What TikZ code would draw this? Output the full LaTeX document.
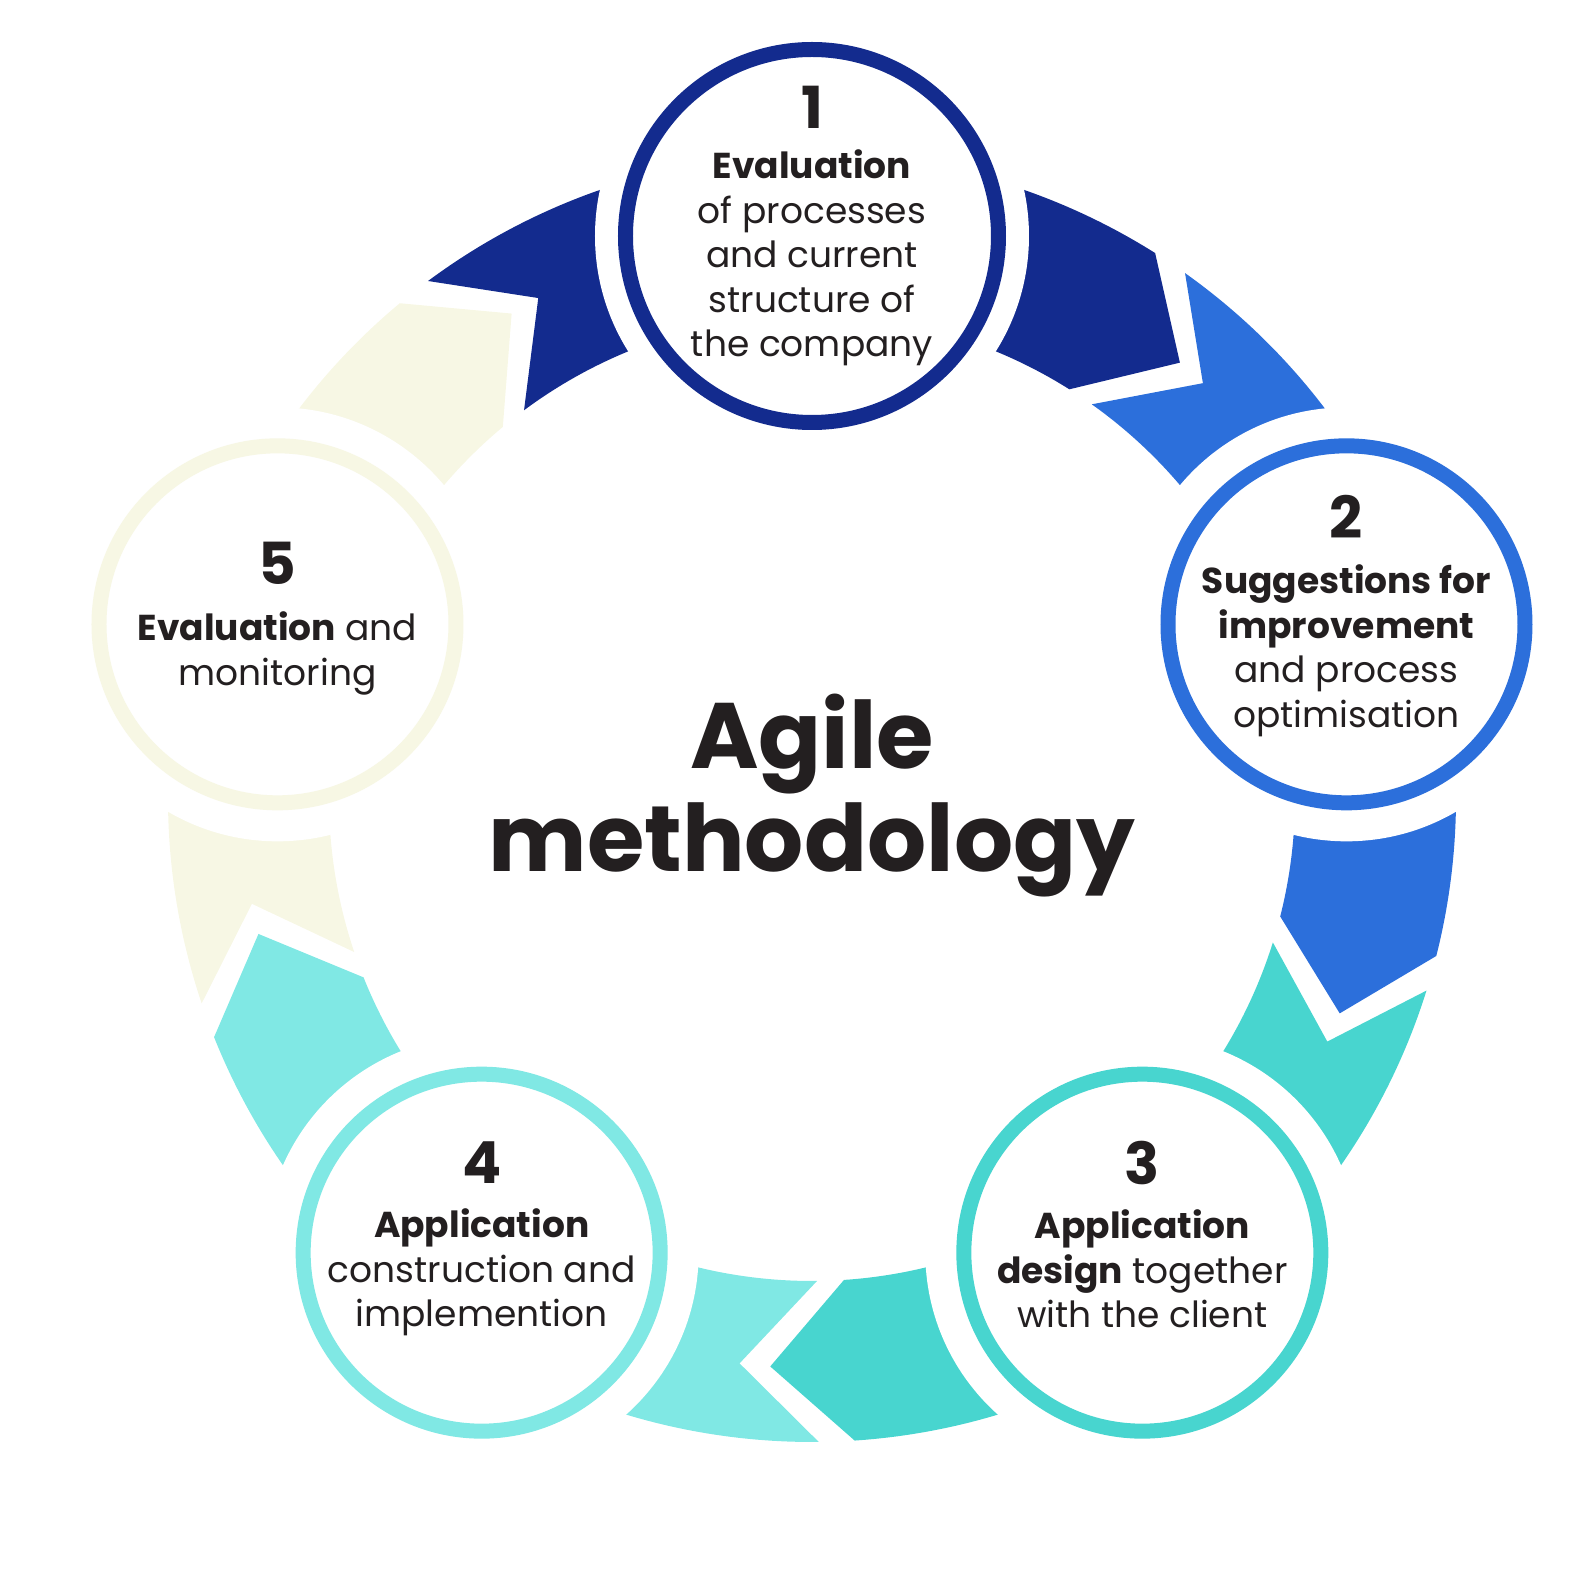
\documentclass[tikz,border=0pt]{standalone}
\usepackage{fontspec}
\setmainfont{Poppins}

\definecolor{stepone}{RGB}{19,43,142}
\definecolor{steptwo}{RGB}{44,111,219}
\definecolor{stepthree}{RGB}{72,213,207}
\definecolor{stepfour}{RGB}{128,232,228}
\definecolor{stepfive}{RGB}{247,247,228}
\definecolor{txt}{RGB}{35,31,32}

\tikzset{
  stepring/.style={circle, inner sep=0pt, line width=15pt, fill=white},
  steptext/.style={align=center, anchor=base, inner sep=0pt, text=txt,
    font=\fontsize{36}{44.5}\selectfont},
}
\newcommand{\stepnum}[1]{{\fontsize{58}{58}\selectfont\bfseries #1}}

\begin{document}
\begin{tikzpicture}[x=1pt,y=1pt]
\useasboundingbox (-812,-771) rectangle (771,798);

%arrow pieces of the cycle, one behind each circle
\foreach \a/\c in {90/stepone,18/steptwo,-54/stepthree,-126/stepfour,162/stepfive}
  \fill[\c] ({\a+36.6}:644) arc[start angle=\a+36.6, end angle=\a-32.2, radius=644]
    -- ({\a-40.2}:570) -- ({\a-32.2}:483)
    arc[start angle=\a-32.2, end angle=\a+36.6, radius=483]
    -- ({\a+28.7}:570) -- cycle;

%centres of the five circles
\foreach \i/\a in {1/90,2/18,3/-54,4/-126,5/162}
  \coordinate (c\i) at (\a:562);

%white gap round the circles
\foreach \i in {1,...,5}
  \fill[white] (c\i) circle[radius=217];

\node[stepring, draw=stepone, minimum size=373pt] (ring1) at (c1) {};
\node[stepring, draw=steptwo, minimum size=357pt] (ring2) at (c2) {};
\node[stepring, draw=stepthree, minimum size=357pt] (ring3) at (c3) {};
\node[stepring, draw=stepfour, minimum size=357pt] (ring4) at (c4) {};
\node[stepring, draw=stepfive, minimum size=357pt] (ring5) at (c5) {};

%texts (base = last line)
\node[steptext] (step1) at ([yshift=-121pt]c1) {\stepnum{1}\\[5.5pt]\textbf{Evaluation}\\of processes\\and current\\structure of\\the company};
\node[steptext] (step2) at ([yshift=-103pt]c2) {\stepnum{2}\\[10.5pt]\textbf{Suggestions for}\\\textbf{improvement}\\and process\\optimisation};
\node[steptext] (step3) at ([yshift=-75pt]c3) {\stepnum{3}\\[9.5pt]\textbf{Application}\\\textbf{design} together\\with the client};
\node[steptext] (step4) at ([yshift=-74pt]c4) {\stepnum{4}\\[9.5pt]\textbf{Application}\\construction and\\implemention};
\node[steptext] (step5) at ([yshift=-61pt]c5) {\stepnum{5}\\[11.5pt]\textbf{Evaluation} and\\monitoring};

\node[align=center, anchor=base, inner sep=0pt, text=txt, font=\fontsize{93}{103}\selectfont\bfseries] (title) at (0,-73) {Agile\\methodology};

\end{tikzpicture}
\end{document}
